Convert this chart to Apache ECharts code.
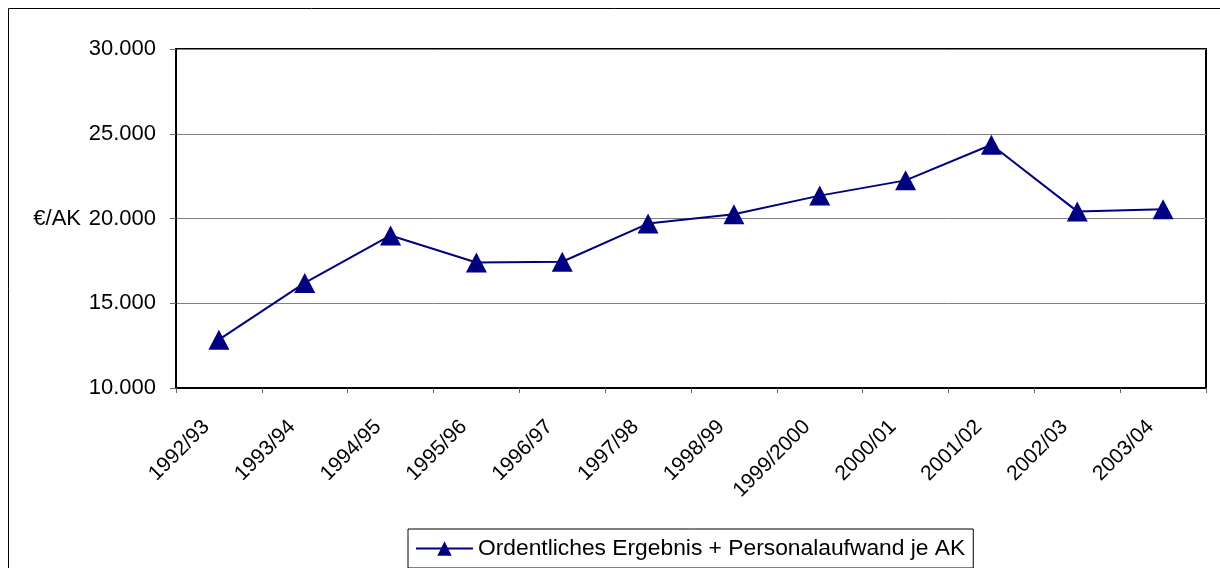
<!DOCTYPE html>
<html>
<head>
<meta charset="utf-8">
<script src="https://cdn.jsdelivr.net/npm/echarts@6/dist/echarts.min.js"></script>
<style>
  html, body { margin: 0; padding: 0; background: #fff; }
  #chart { width: 1220px; height: 568px; }
</style>
</head>
<body>
<div id="chart"></div>
<script>
// Wirtschaftsjahre
var jahre = ['1992/93', '1993/94', '1994/95', '1995/96', '1996/97', '1997/98',
             '1998/99', '1999/2000', '2000/01', '2001/02', '2002/03', '2003/04'];
// Ordentliches Ergebnis + Personalaufwand je AK (€/AK)
var ergebnisJeAK = [12850, 16200, 19000, 17400, 17450, 19700,
                    20250, 21350, 22250, 24350, 20420, 20550];
var yTicks = [10000, 15000, 20000, 25000, 30000];

var serienName = 'Ordentliches Ergebnis + Personalaufwand je AK';
var fontFam = 'Liberation Sans, Arial, sans-serif';

function fmtDE(v) {
    // 20000 -> "20.000"
    return String(v).replace(/\B(?=(\d{3})+(?!\d))/g, '.');
}

var myChart = echarts.init(document.getElementById('chart'));

var option = {
    backgroundColor: '#fff',
    animation: false,
    textStyle: { fontFamily: fontFam, color: '#000' },
    graphic: [{
        type: 'rect',
        shape: { x: 8.5, y: 8.5, width: 1230, height: 580 },
        style: { fill: 'none', stroke: '#000', lineWidth: 1 }
    }],
    grid: {
        show: true,
        left: 176,
        right: 14,
        top: 49,
        bottom: 180,
        borderColor: '#000',
        borderWidth: 2,
        backgroundColor: '#fff'
    },
    legend: {
        top: 529,
        left: 408,
        data: [serienName],
        itemWidth: 57,
        itemHeight: 18,
        itemGap: 4,
        padding: [8, 8, 8, 7],
        borderColor: '#000',
        borderWidth: 1,
        borderRadius: 0,
        textStyle: { fontFamily: fontFam, fontSize: 22.8, color: '#000', padding: [0, 0, 0, 0] }
    },
    xAxis: {
        type: 'category',
        data: jahre,
        boundaryGap: true,
        axisLine: { lineStyle: { color: '#000', width: 2 } },
        axisTick: { show: true, length: 5, lineStyle: { color: '#666', width: 1 } },
        axisLabel: {
            rotate: 45,
            margin: 23,
            interval: 0,
            fontSize: 21,
            color: '#000',
            fontFamily: fontFam,
            padding: [0, 18, 0, 0]
        },
        splitLine: { show: false }
    },
    yAxis: {
        type: 'value',
        min: yTicks[0],
        max: yTicks[yTicks.length - 1],
        interval: 5000,
        name: '€/AK',
        nameLocation: 'middle',
        nameRotate: 0,
        nameGap: 95,
        nameTextStyle: { fontSize: 22, color: '#000', fontFamily: fontFam, align: 'right' },
        axisLine: { show: true, lineStyle: { color: '#000', width: 2 } },
        axisTick: { show: true, length: 6, lineStyle: { color: '#666', width: 1 } },
        axisLabel: {
            margin: 20,
            fontSize: 22,
            color: '#000',
            fontFamily: fontFam,
            formatter: function (v) { return fmtDE(v); }
        },
        splitLine: { show: true, lineStyle: { color: '#808080', width: 1 } }
    },
    series: [{
        name: serienName,
        type: 'line',
        data: ergebnisJeAK,
        symbol: 'triangle',
        symbolSize: [21, 20],
        lineStyle: { color: '#000080', width: 2 },
        itemStyle: { color: '#000080' }
    }]
};

myChart.setOption(option);
</script>
</body>
</html>
